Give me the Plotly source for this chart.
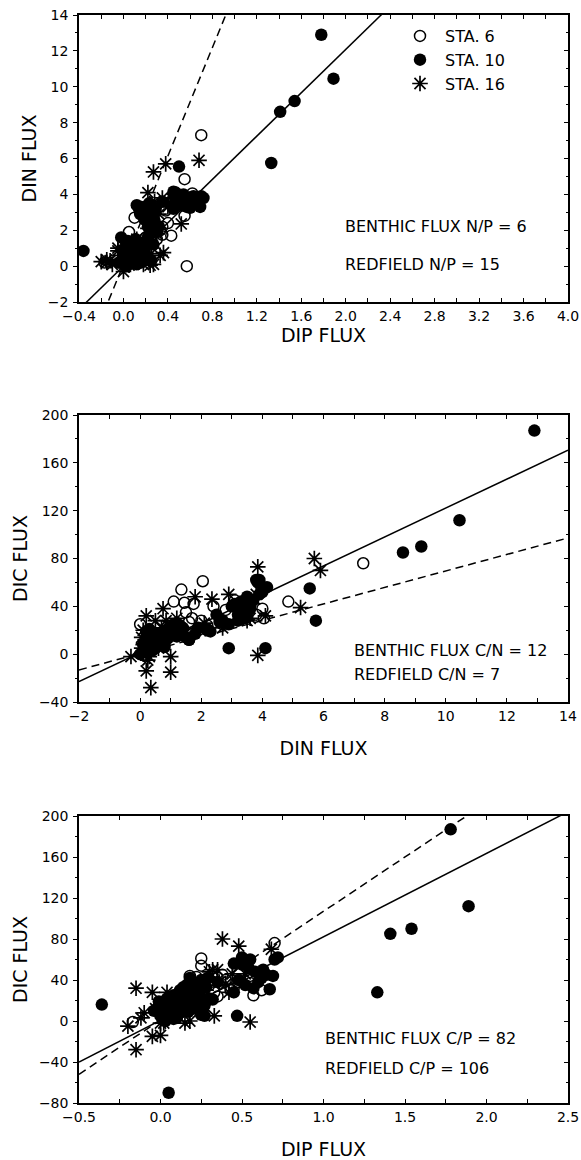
import plotly.graph_objects as go

# ---------------- data (per station: DIP, DIN, DIC fluxes) ----------------
STA6_DIP = [0.70, 0.55, 0.57, 0.62, 0.25, 0.25, 0.18, 0.10, 0.35, 0.40, 0.45, 0.43,
            0.33, 0.38, -0.17, 0.55, 0.30, 0.05, 0.15, 0.35, 0.20, 0.22, 0.48]
STA6_DIN = [7.3, 4.85, 0.0, 4.05, 2.05, 1.35, 1.1, 2.7, 1.75, 2.4, 3.8, 1.7,
            2.0, 3.1, 0.2, 2.8, 1.5, 1.9, 0.9, 2.2, 1.6, 1.45, 4.0]
STA6_DIC = [76, 44, 25, 30, 61, 54, 44, 25, 42, 40, 33, 30,
            28, 45, -1, 37, 35, 20, 15, 24, 27, 43, 38]

STA10_DIP = [1.78, 1.89, 1.54, 1.41, 1.33, 0.50, -0.36, 0.05, 0.47, 0.27, 0.50, 0.55,
             0.58, 0.62, 0.57, 0.67, 0.70, 0.72, 0.65, 0.52, 0.45, 0.60, 0.12, 0.20,
             0.25, 0.15, 0.28, 0.22, 0.30, 0.18, 0.24, 0.35, 0.45, -0.02, 0.05, 0.10,
             0.00, 0.08, 0.15, 0.20, 0.03, 0.12, 0.07, 0.18, 0.00, 0.10, 0.04, 0.13,
             0.22, 0.27, 0.08, -0.04, 0.16, 0.25,
             0.02, 0.06, 0.11, 0.14, 0.17, 0.09, 0.03, 0.19, -0.01, 0.13, 0.16, 0.23,
             0.19, 0.26, 0.29, 0.14, 0.48, 0.63, 0.69, 0.54, 0.24, 0.32, 0.10]
STA10_DIN = [12.9, 10.45, 9.2, 8.6, 5.75, 5.55, 0.85, 0.6, 4.1, 2.9, 3.9, 3.85,
             3.5, 3.6, 3.3, 3.5, 3.9, 3.8, 3.7, 3.4, 4.15, 3.25, 3.4, 3.3,
             3.0, 2.9, 2.5, 2.2, 1.9, 3.1, 2.7, 3.6, 3.2, 1.6, 1.2, 0.8,
             0.5, 0.2, 1.0, 0.5, 0.0, 0.1, 0.9, 1.3, 0.3, 0.4, 1.4, 0.6,
             1.6, 1.2, 1.1, 0.2, 0.2, 0.3,
             0.8, 0.4, 1.5, 0.3, 0.7, 1.3, 1.1, 0.9, 0.9, 1.2, 3.3, 3.5,
             2.6, 2.3, 3.2, 3.2, 3.6, 3.9, 3.3, 4.0, 1.8, 2.2, 0.2]
STA10_DIC = [187, 112, 90, 85, 28, 55, 16, -70, 5, 5, 62, 60,
             48, 42, 32, 31, 60, 62, 45, 35, 56, 38, 30, 36,
             40, 25, 33, 20, 22, 42, 28, 38, 28, 12, 15, 10,
             5, 2, 18, 12, 0, 8, 20, 24, 14, 3, 22, 17,
             12, 15, 25, 10, 19, 6,
             6, 11, 14, 21, 9, 18, 16, 13, 19, 26, 35, 31,
             27, 19, 42, 33, 40, 50, 44, 52, 17, 21, 4]

STA16_DIP = [0.38, 0.68, 0.27, 0.48, 0.55, 0.52, -0.15, -0.15, 0.00, -0.05, 0.00, 0.22,
             0.35, 0.42, 0.25, 0.33, -0.20, -0.10, -0.05, 0.18, 0.27, 0.30, 0.32, 0.10,
             0.05, 0.12, 0.20, 0.15, -0.03, 0.08, 0.02, 0.40, 0.28,
             0.07, 0.12, 0.04, 0.24, 0.36, -0.12, 0.16, 0.22, 0.44]
STA16_DIN = [5.7, 5.9, 5.25, 3.85, 3.85, 2.35, 0.2, 0.35, 0.2, 1.0, -0.3, 4.1,
             3.8, 3.5, 0.7, 0.6, 0.25, 0.1, 0.85, 0.1, 0.1, 1.8, 2.9, 0.5,
             0.05, 1.5, 2.7, 0.3, 0.6, 0.7, 1.0, 3.3, 3.6,
             0.3, 0.9, 0.5, 0.05, 0.75, 0.3, 1.2, 2.1, 3.75]
STA16_DIC = [80, 70, 39, 73, -1, 46, 32, -28, -14, -15, -2, 32,
             50, 28, 10, 5, -5, 8, 28, 0, 20, 48, 50, 15,
             5, 18, 22, -2, 12, 22, -2, 36, 30,
             12, 24, 28, 14, 38, 3, 30, 26, 46]

STATION_NAMES = ["STA. 6", "STA. 10", "STA. 16"]

# regression / Redfield lines: (slope, intercept)
NP_BENTHIC = (6.04, 0.0)
NP_REDFIELD = (15.1, 0.1)
CN_BENTHIC = (12.1, 1.2)
CN_REDFIELD = (6.9, 0.6)
CP_BENTHIC = (81.4, 0.7)
CP_REDFIELD = (106.0, 1.0)

# axis ranges
P1_X = [-0.4, 4.0]; P1_Y = [-2, 14]
P2_X = [-2, 14];    P2_Y = [-40, 200]
P3_X = [-0.5, 2.5]; P3_Y = [-80, 200]

TEXTS = [
    ["BENTHIC FLUX N/P = 6", "REDFIELD N/P = 15"],
    ["BENTHIC FLUX C/N = 12", "REDFIELD C/N = 7"],
    ["BENTHIC FLUX C/P = 82", "REDFIELD C/P = 106"],
]

# ---------------- figure ----------------
FONT = "DejaVu Sans"
W, H = 581, 1160
PLOT_L, PLOT_R, PLOT_T, PLOT_B = 79, 568, 15, 1103   # plot box in pixels
ML, MR, MT, MB = PLOT_L, W - PLOT_R, PLOT_T, H - PLOT_B
PH = PLOT_B - PLOT_T


def py(pix):  # pixel row -> paper y
    return (PLOT_B - pix) / PH


def px(pix):  # pixel column -> paper x
    return (pix - PLOT_L) / (PLOT_R - PLOT_L)


domains = [[py(302), 1.0], [py(702), py(415)], [0.0, py(816)]]

fig = go.Figure()

styles = [
    dict(symbol="circle-open", size=11, color="black", line=dict(width=1.5, color="black")),
    dict(symbol="circle", size=12.5, color="black", line=dict(width=0)),
    dict(symbol="asterisk-open", size=13, color="black", line=dict(width=1.7, color="black")),
]
dip = [STA6_DIP, STA10_DIP, STA16_DIP]
din = [STA6_DIN, STA10_DIN, STA16_DIN]
dic = [STA6_DIC, STA10_DIC, STA16_DIC]

panels = [
    ("x", "y", dip, din, P1_X, NP_BENTHIC, NP_REDFIELD),
    ("x2", "y2", din, dic, P2_X, CN_BENTHIC, CN_REDFIELD),
    ("x3", "y3", dip, dic, P3_X, CP_BENTHIC, CP_REDFIELD),
]

for pi, (xa, ya, xs, ys, xr, solid, dashed) in enumerate(panels):
    for (m, b), dash in [(solid, "solid"), (dashed, "8px,5px")]:
        fig.add_trace(go.Scatter(
            x=xr, y=[m * v + b for v in xr], mode="lines", xaxis=xa, yaxis=ya,
            line=dict(color="black", width=1.5, dash=dash),
            showlegend=False, hoverinfo="skip"))
    for si in range(3):
        fig.add_trace(go.Scatter(
            x=xs[si], y=ys[si], mode="markers", xaxis=xa, yaxis=ya,
            marker=styles[si], name="\u00a0" + STATION_NAMES[si],
            showlegend=(pi == 0), legendgroup=STATION_NAMES[si]))

# empty traces to create the right-hand tick axes
for xa, ya in [("x", "y4"), ("x2", "y5"), ("x3", "y6")]:
    fig.add_trace(go.Scatter(x=[None], y=[None], xaxis=xa, yaxis=ya,
                             showlegend=False, hoverinfo="skip"))

tickfont = dict(family=FONT, size=14, color="black")
titlefont = dict(family=FONT, size=19, color="black")


def xaxis_cfg(rng, dtick, minor, fmt, title, standoff, anchor):
    return dict(range=rng, dtick=dtick, tick0=rng[0], tickformat=fmt, automargin=False,
                showgrid=False, zeroline=False, showline=True, linecolor="black",
                linewidth=1.5, mirror="allticks", ticks="inside", ticklen=4,
                tickwidth=1.2, tickcolor="black", ticklabeloverflow="allow",
                minor=dict(dtick=minor, ticks="inside", ticklen=2, tickwidth=1, tickcolor="black"),
                tickfont=tickfont, anchor=anchor,
                title=dict(text=title, font=titlefont, standoff=standoff))


def yaxis_cfg(rng, dtick, minor, title, domain, anchor):
    return dict(range=rng, dtick=dtick, tick0=rng[0], domain=domain, automargin=False,
                showgrid=False, zeroline=False, showline=True, linecolor="black",
                linewidth=1.5, mirror=True, ticks="outside", ticklen=4,
                tickwidth=1.2, tickcolor="black", ticklabelstandoff=2,
                ticklabeloverflow="allow",
                minor=dict(dtick=minor, ticks="outside", ticklen=2, tickwidth=1, tickcolor="black"),
                tickfont=tickfont, anchor=anchor,
                title=dict(text=title, font=titlefont, standoff=6))


def ymirror_cfg(rng, dtick, minor, over, anchor):
    return dict(range=rng, dtick=dtick, tick0=rng[0], overlaying=over, side="right",
                anchor=anchor, automargin=False, showgrid=False, zeroline=False, showline=False,
                showticklabels=False, ticks="inside", ticklen=4, tickwidth=1.2,
                tickcolor="black",
                minor=dict(dtick=minor, ticks="inside", ticklen=2, tickwidth=1, tickcolor="black"))


fig.update_layout(
    template="none",
    width=W, height=H, margin=dict(l=ML, r=MR, t=MT, b=MB, autoexpand=False),
    paper_bgcolor="white", plot_bgcolor="white",
    font=dict(family=FONT, color="black"),
    xaxis=xaxis_cfg(P1_X, 0.4, 0.2, ".1f", "DIP FLUX", 4, "y"),
    yaxis=yaxis_cfg(P1_Y, 2, 1, "DIN FLUX", domains[0], "x"),
    xaxis2=xaxis_cfg(P2_X, 2, 1, "d", "DIN FLUX", 19, "y2"),
    yaxis2=yaxis_cfg(P2_Y, 40, 20, "DIC FLUX", domains[1], "x2"),
    xaxis3=xaxis_cfg(P3_X, 0.5, 0.25, ".1f", "DIP FLUX", 21, "y3"),
    yaxis3=yaxis_cfg(P3_Y, 40, 20, "DIC FLUX", domains[2], "x3"),
    yaxis4=ymirror_cfg(P1_Y, 2, 1, "y", "x"),
    yaxis5=ymirror_cfg(P2_Y, 40, 20, "y2", "x2"),
    yaxis6=ymirror_cfg(P3_Y, 40, 20, "y3", "x3"),
    legend=dict(x=px(400), y=py(19), xanchor="left", yanchor="top",
                bgcolor="rgba(0,0,0,0)", borderwidth=0,
                font=dict(family=FONT, size=16, color="black"),
                itemwidth=30, tracegroupgap=0),
    showlegend=True,
)

text_pos = [(343, [227, 265]), (352, [651, 674]), (323, [1038, 1068])]
for (xpix, ypixs), texts in zip(text_pos, TEXTS):
    for yp, t in zip(ypixs, texts):
        fig.add_annotation(x=px(xpix), y=py(yp), xref="paper", yref="paper",
                           text=t, showarrow=False, xanchor="left", yanchor="middle",
                           font=dict(family=FONT, size=16, color="black"))

# remove the browser's default 8px page margin so the figure fills the window
fig.write_html("out.html",
               config={"displayModeBar": False},
               post_script="document.body.style.margin='0';document.body.style.overflow='hidden';")
